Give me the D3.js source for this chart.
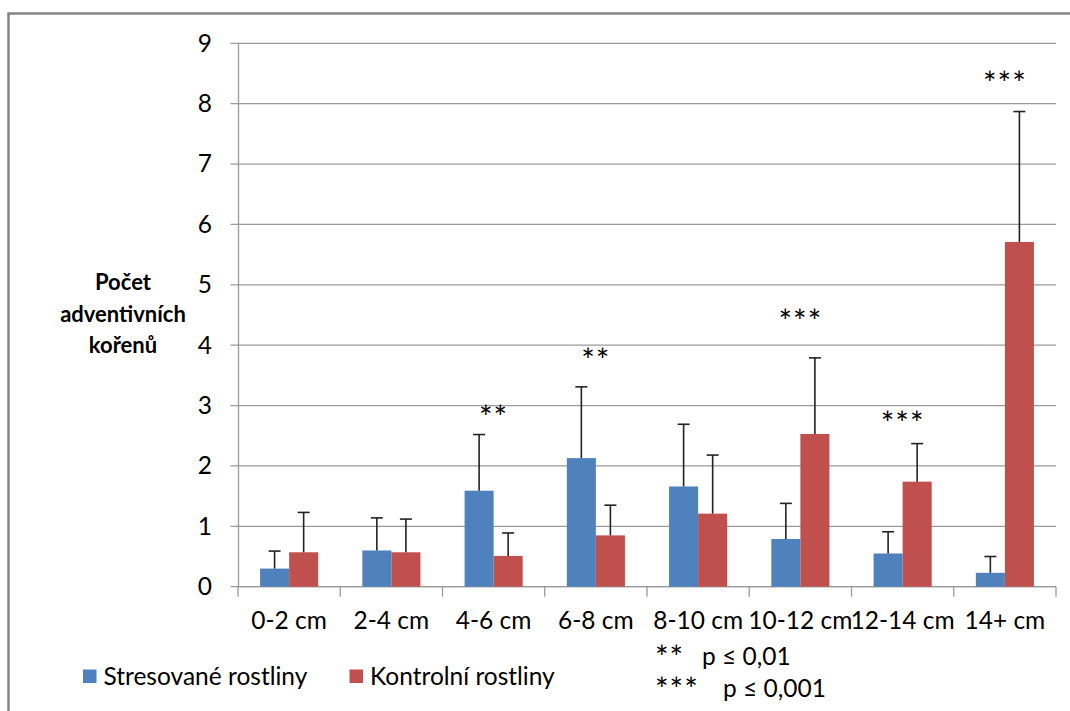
<!DOCTYPE html>
<html>
<head>
<meta charset="utf-8">
<script src="https://cdn.jsdelivr.net/npm/d3@7"></script>
<style>
    body { margin: 0; background: #ffffff; }
    text { font-family: Lato, "Liberation Sans", sans-serif; fill: #000; }
</style>
</head>
<body>
<div id="chart"></div>
<script>
//data:
var categories = ["0-2 cm", "2-4 cm", "4-6 cm", "6-8 cm", "8-10 cm", "10-12 cm", "12-14 cm", "14+ cm"];
var seriesNames = ["Stresované rostliny", "Kontrolní rostliny"];
var stressed = [0.30, 0.60, 1.59, 2.13, 1.66, 0.79, 0.55, 0.23];
var stressedErr = [0.29, 0.54, 0.93, 1.18, 1.03, 0.59, 0.36, 0.27];
var control = [0.57, 0.57, 0.51, 0.85, 1.21, 2.53, 1.74, 5.71];
var controlErr = [0.66, 0.55, 0.38, 0.50, 0.97, 1.26, 0.63, 2.16];
var sigLabels = ["", "", "**", "**", "", "***", "***", "***"];
var sigAt = [0, 0, 2.90, 3.84, 0, 4.48, 2.80, 8.42];
var yTicks = [0, 1, 2, 3, 4, 5, 6, 7, 8, 9];
var yTitle = ["Počet", "adventivních", "kořenů"];
var notes = [["**", "p ≤ 0,01"], ["***", "p ≤ 0,001"]];

var colors = ["#4f81bd", "#c0504d"];
var width = 1070, height = 711;
var plotLeft = 238, plotRight = 1056, plotTop = 43.3, plotBottom = 586.7;
var fontSize = "24.5px";

var svg = d3.select("#chart")
    .append("svg")
    .attr("width", width)
    .attr("height", height);

//outer frame (runs off the right and bottom edge)
svg.append("rect")
    .attr("x", 8.5)
    .attr("y", 13.5)
    .attr("width", 1080)
    .attr("height", 720)
    .attr("fill", "none")
    .attr("stroke", "#858585")
    .attr("stroke-width", 2.5);

//scales
var x = d3.scaleBand().domain(categories).range([plotLeft, plotRight]).padding(0);
var xInner = d3.scaleBand().domain([0, 1]).range([0, x.bandwidth()])
    .paddingInner(0).paddingOuter(0.76);
var y = d3.scaleLinear().domain([0, 9]).range([plotBottom, plotTop]);

//grid lines
svg.append("g")
    .selectAll("line")
    .data(yTicks)
    .enter().append("line")
    .attr("x1", plotLeft - 7.5)
    .attr("x2", plotRight)
    .attr("y1", function (d) { return y(d); })
    .attr("y2", function (d) { return y(d); })
    .attr("stroke", "#9a9a9a")
    .attr("stroke-width", 1.3);

//y axis
var yAxis = d3.axisLeft(y).tickValues(yTicks).tickSize(0).tickPadding(26);
var gy = svg.append("g")
    .attr("transform", "translate(" + plotLeft + ",0)")
    .call(yAxis);
gy.select(".domain").attr("stroke", "#9a9a9a").attr("stroke-width", 1.3);
gy.selectAll("text")
    .style("font-size", fontSize)
    .style("font-family", "Lato, sans-serif");

//x axis: ticks sit on the category edges
var xAxis = d3.axisBottom(x).tickSize(0).tickPadding(25);
var gx = svg.append("g")
    .attr("transform", "translate(0," + plotBottom + ")")
    .call(xAxis);
gx.select(".domain").remove();
gx.selectAll("text")
    .style("font-size", fontSize)
    .style("font-family", "Lato, sans-serif");
gx.append("line")
    .attr("x1", plotLeft).attr("x2", plotRight)
    .attr("stroke", "#9a9a9a").attr("stroke-width", 1.3);
gx.selectAll(".edge")
    .data(categories.concat(["end"]))
    .enter().append("line")
    .attr("class", "edge")
    .attr("x1", function (d, i) { return i < categories.length ? x(d) : plotRight; })
    .attr("x2", function (d, i) { return i < categories.length ? x(d) : plotRight; })
    .attr("y1", 0)
    .attr("y2", 10)
    .attr("stroke", "#9a9a9a")
    .attr("stroke-width", 1.3);

//bars
var series = [stressed, control];
var errs = [stressedErr, controlErr];
series.forEach(function (vals, s) {
    var g = svg.append("g");
    g.selectAll("rect")
        .data(vals)
        .enter().append("rect")
        .attr("x", function (d, i) { return x(categories[i]) + xInner(s); })
        .attr("y", function (d) { return y(d); })
        .attr("width", xInner.bandwidth())
        .attr("height", function (d) { return y(0) - y(d); })
        .attr("fill", colors[s]);

    // error bars, upper half only
    var eb = g.selectAll(".err")
        .data(vals)
        .enter().append("g")
        .attr("class", "err")
        .attr("transform", function (d, i) {
            return "translate(" + (x(categories[i]) + xInner(s) + xInner.bandwidth() / 2) + ",0)";
        });
    eb.append("line")
        .attr("y1", function (d) { return y(d); })
        .attr("y2", function (d, i) { return y(d + errs[s][i]); })
        .attr("stroke", "#222")
        .attr("stroke-width", 1.6);
    eb.append("line")
        .attr("x1", -6).attr("x2", 6)
        .attr("y1", function (d, i) { return y(d + errs[s][i]); })
        .attr("y2", function (d, i) { return y(d + errs[s][i]); })
        .attr("stroke", "#222")
        .attr("stroke-width", 1.6);
});

//significance stars
var sigData = sigLabels.map(function (d, i) {
    return {label: d, cat: categories[i], at: sigAt[i]};
}).filter(function (d) { return d.label !== ""; });

svg.append("g")
    .selectAll("text")
    .data(sigData)
    .enter().append("text")
    .attr("x", function (d) { return x(d.cat) + x.bandwidth() / 2; })
    .attr("y", function (d) { return y(d.at) + 17; })
    .attr("text-anchor", "middle")
    .style("font-size", "32px")
    .style("letter-spacing", "1px")
    .text(function (d) { return d.label; });

//y title
svg.append("text")
    .attr("text-anchor", "middle")
    .style("font-size", "22px")
    .style("font-weight", "bold")
    .selectAll("tspan")
    .data(yTitle)
    .enter().append("tspan")
    .attr("x", 123)
    .attr("y", function (d, i) { return 290 + i * 31.7; })
    .text(function (d) { return d; });

//legend
var legend = svg.append("g").attr("transform", "translate(83,669.5)");
var legendX = [0, 266.5];
seriesNames.forEach(function (name, i) {
    legend.append("rect")
        .attr("x", legendX[i]).attr("y", 0)
        .attr("width", 13.5).attr("height", 13.5)
        .attr("fill", colors[i]);
    legend.append("text")
        .attr("x", legendX[i] + 20.5).attr("y", 15.5)
        .style("font-size", fontSize)
        .text(name);
});

//p value notes
var noteG = svg.append("g");
var noteTextX = [702, 723];
notes.forEach(function (n, i) {
    noteG.append("text")
        .attr("x", 655).attr("y", 669 + i * 32)
        .style("font-size", "32px")
        .style("letter-spacing", "1px")
        .text(n[0]);
    noteG.append("text")
        .attr("x", noteTextX[i]).attr("y", 665 + i * 32)
        .style("font-size", fontSize)
        .text(n[1]);
});
</script>
</body>
</html>
